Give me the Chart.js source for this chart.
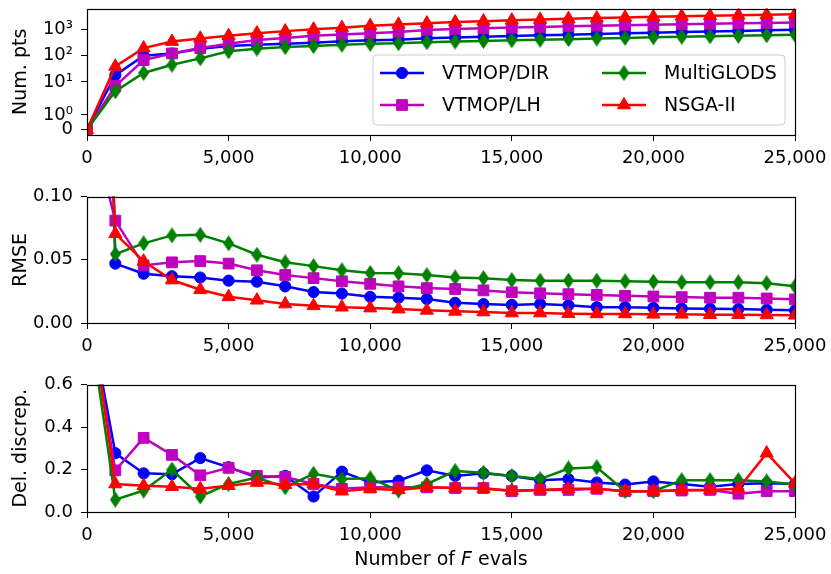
<!DOCTYPE html>
<html lang="en">
<head>
<meta charset="UTF-8">
<title>Num. pts / RMSE / Del. discrep. vs number of F evals</title>
<script src="https://cdn.jsdelivr.net/npm/chart.js"></script>
<style>
  body { margin: 0; background: #fff; }
  #wrap { position: relative; width: 831px; height: 574px; }
  canvas { position: absolute; left: 0; }
</style>
</head>
<body>
<div id="wrap">
  <canvas id="numChart" width="831" height="180" style="top:0"></canvas>
  <canvas id="rmseChart" width="831" height="180" style="top:188px"></canvas>
  <canvas id="delChart" width="831" height="198" style="top:376px"></canvas>
</div>
<script>
// x values (number of F evals)
const evals = [0, 1000, 2000, 3000, 4000, 5000, 6000, 7000, 8000, 9000, 10000, 11000, 12000,
  13000, 14000, 15000, 16000, 17000, 18000, 19000, 20000, 21000, 22000, 23000, 24000, 25000];
const seriesNames = ["VTMOP/DIR", "VTMOP/LH", "MultiGLODS", "NSGA-II"];

// Num. pts
const numDir = [0, 18, 99, 121, 185, 231, 260, 283, 308, 353, 385, 408, 456, 490, 525, 560, 595, 630, 670, 710, 750, 790, 830, 875, 920, 970];
const numLh = [0, 7, 68, 121, 195, 283, 398, 471, 573, 640, 721, 805, 955, 1030, 1100, 1170, 1240, 1310, 1380, 1440, 1500, 1570, 1630, 1700, 1760, 1830];
const numGlods = [0, 4.4, 22, 45, 79, 147, 185, 212, 231, 260, 283, 298, 324, 345, 365, 385, 405, 425, 450, 475, 500, 525, 545, 570, 595, 620];
const numNsga = [0, 39, 194, 345, 455, 570, 720, 860, 1010, 1160, 1380, 1550, 1720, 1900, 2060, 2220, 2380, 2540, 2700, 2860, 3010, 3160, 3310, 3460, 3610, 3760];

// RMSE
const rmseDir = [0.9, 0.047, 0.039, 0.037, 0.036, 0.0335, 0.0327, 0.029, 0.0245, 0.0233, 0.0207, 0.020, 0.019,
  0.016, 0.015, 0.0143, 0.015, 0.014, 0.0125, 0.0125, 0.012, 0.0115, 0.0113, 0.011, 0.0105, 0.010];
const rmseLh = [0.17, 0.081, 0.0455, 0.048, 0.049, 0.047, 0.0417, 0.038, 0.0355, 0.033, 0.031, 0.029, 0.0276,
  0.0269, 0.0258, 0.0243, 0.0235, 0.0228, 0.0222, 0.0215, 0.021, 0.0205, 0.020, 0.020, 0.0194, 0.0187];
const rmseGlods = [0.9, 0.0545, 0.063, 0.0693, 0.0698, 0.063, 0.054, 0.048, 0.045, 0.0417, 0.0396, 0.0394, 0.0379,
  0.036, 0.0355, 0.034, 0.0335, 0.0335, 0.0335, 0.033, 0.0327, 0.0322, 0.0322, 0.0322, 0.0315, 0.029];
const rmseNsga = [0.6, 0.0706, 0.0488, 0.034, 0.0263, 0.0207, 0.018, 0.015, 0.0136, 0.0125, 0.0118, 0.011, 0.010,
  0.0092, 0.0087, 0.0079, 0.0079, 0.0074, 0.0072, 0.0072, 0.0069, 0.0069, 0.0066, 0.0066, 0.0064, 0.0061];

// Del. discrep.
const delDir = [1.0, 0.277, 0.182, 0.178, 0.254, 0.211, 0.162, 0.17, 0.073, 0.19, 0.139, 0.147, 0.196,
  0.17, 0.182, 0.17, 0.15, 0.155, 0.139, 0.129, 0.144, 0.132, 0.119, 0.132, 0.135, 0.132];
const delLh = [1.0, 0.196, 0.349, 0.269, 0.173, 0.208, 0.17, 0.165, 0.132, 0.109, 0.116, 0.116, 0.116,
  0.113, 0.113, 0.098, 0.104, 0.104, 0.109, 0.098, 0.098, 0.101, 0.104, 0.086, 0.098, 0.098];
const delGlods = [0.98, 0.058, 0.101, 0.2, 0.073, 0.132, 0.162, 0.116, 0.18, 0.155, 0.159, 0.101, 0.132,
  0.193, 0.185, 0.17, 0.155, 0.205, 0.211, 0.098, 0.098, 0.15, 0.15, 0.15, 0.144, 0.129];
const delNsga = [1.07, 0.132, 0.124, 0.119, 0.109, 0.124, 0.139, 0.129, 0.132, 0.098, 0.109, 0.104, 0.116,
  0.113, 0.109, 0.101, 0.104, 0.109, 0.109, 0.098, 0.098, 0.104, 0.104, 0.109, 0.277, 0.135];

// ticks
const xTicks = [0, 5000, 10000, 15000, 20000, 25000];
const numTicks = [0, 1, 10, 100, 1000];
const numTickLabels = ["0", "10\u2070", "10\u00b9", "10\u00b2", "10\u00b3"];
const rmseTicks = [0, 0.05, 0.10];
const delTicks = [0, 0.2, 0.4, 0.6];

const FONT = '"DejaVu Sans", sans-serif';
const FS = 18;      // tick labels
const FT = 19;      // axis titles, legend
Chart.defaults.font.family = FONT;
Chart.defaults.font.size = FS;
Chart.defaults.color = '#000';

// symlog scale (linthresh 2, linscale 1, base 10) like matplotlib
const LINTHRESH = 2;
const LINADJ = 1 / (1 - 1 / 10);
function symlog(v) {
  const a = Math.abs(v);
  if (a <= LINTHRESH) return v / LINTHRESH * LINADJ;
  return Math.sign(v) * (LINADJ + Math.log10(a / LINTHRESH));
}
function symexp(t) {
  const a = Math.abs(t);
  if (a <= LINADJ) return t / LINADJ * LINTHRESH;
  return Math.sign(t) * LINTHRESH * Math.pow(10, a - LINADJ);
}
class SymlogScale extends Chart.Scale {
  static id = 'symlog';
  static defaults = {};
  parse(raw) { return raw == null ? NaN : +raw; }
  determineDataLimits() {
    const { min, max } = this.getMinMax(true);
    this.min = Number.isFinite(this.options.min) ? this.options.min : min;
    this.max = Number.isFinite(this.options.max) ? this.options.max : max;
  }
  buildTicks() { return numTicks.map(v => ({ value: v })); }
  configure() {
    super.configure();
    this._startValue = symlog(this.min);
    this._valueRange = symlog(this.max) - symlog(this.min);
  }
  getLabelForValue(v) { return String(v); }
  getPixelForValue(v) {
    return this.getPixelForDecimal((symlog(v) - this._startValue) / this._valueRange);
  }
  getValueForPixel(p) {
    return symexp(this._startValue + this.getDecimalForPixel(p) * this._valueRange);
  }
}
Chart.register(SymlogScale);

function thinDiamond(color) {
  const c = document.createElement('canvas');
  c.width = 11; c.height = 16;
  const g = c.getContext('2d');
  g.fillStyle = color;
  g.beginPath();
  g.moveTo(5.5, 0); g.lineTo(11, 8); g.lineTo(5.5, 16); g.lineTo(0, 8);
  g.closePath(); g.fill();
  return c;
}

const styles = [
  { color: '#0000ff', pointStyle: 'circle', radius: 5.6, order: 3 },
  { color: '#bf00bf', pointStyle: 'rect', radius: 7.6, order: 2 },
  { color: '#008000', pointStyle: thinDiamond('#008000'), radius: 7, order: 1 },
  { color: '#ff0000', pointStyle: 'triangle', radius: 7.6, order: 0 }
];

function makeDatasets(seriesList) {
  return seriesList.map((vals, k) => ({
    label: seriesNames[k],
    data: evals.map((x, i) => ({ x: x, y: vals[i] })),
    borderColor: styles[k].color,
    backgroundColor: styles[k].color,
    pointBackgroundColor: styles[k].color,
    pointBorderColor: styles[k].color,
    pointStyle: styles[k].pointStyle,
    pointRadius: styles[k].radius,
    pointBorderWidth: 1,
    borderWidth: 2.5,
    tension: 0,
    fill: false,
    order: styles[k].order
  }));
}

function xScale(h) {
  return {
    type: 'linear', min: 0, max: 25000,
    afterBuildTicks: s => { s.ticks = xTicks.map(v => ({ value: v })); },
    ticks: { callback: v => v.toLocaleString('en-US'), padding: 7, maxRotation: 0, autoSkip: false },
    grid: { drawOnChartArea: false, tickLength: 6, color: '#000', tickColor: '#000', lineWidth: 1 },
    border: { display: false },
    afterFit: s => { s.height = h; s.paddingLeft = 0; s.paddingRight = 0; }
  };
}

function yScale(opts) {
  return Object.assign({
    grid: { drawOnChartArea: false, tickLength: 6, color: '#000', tickColor: '#000', lineWidth: 1 },
    border: { display: false },
    afterFit: s => { s.width = 87; s.paddingTop = 0; s.paddingBottom = 0; }
  }, opts);
}

function yTitle(text) {
  return { display: true, text: text, font: { size: FT }, padding: { top: 10, bottom: 0 } };
}

// axes frame on top of the lines
const framePlugin = {
  id: 'frame',
  afterDatasetsDraw(chart) {
    const { ctx, chartArea: a } = chart;
    ctx.save();
    ctx.strokeStyle = '#000';
    ctx.lineWidth = 1.2;
    ctx.strokeRect(Math.round(a.left) + 0.5, Math.round(a.top) + 0.5,
      Math.round(a.right - a.left), Math.round(a.bottom - a.top));
    ctx.restore();
  }
};

const legendPlugin = {
  id: 'boxLegend',
  afterDraw(chart) {
    const ctx = chart.ctx;
    ctx.save();
    const bx = 373, by = 55, bw = 412, bh = 70, r = 4;
    ctx.beginPath();
    ctx.roundRect(bx, by, bw, bh, r);
    ctx.fillStyle = 'rgba(255,255,255,0.8)';
    ctx.fill();
    ctx.strokeStyle = '#cccccc';
    ctx.lineWidth = 1;
    ctx.stroke();
    const cols = [380, 602], rows = [73, 105];
    chart.data.datasets.forEach((ds, k) => {
      const x0 = cols[Math.floor(k / 2)], y0 = rows[k % 2];
      ctx.strokeStyle = ds.borderColor;
      ctx.lineWidth = ds.borderWidth;
      ctx.beginPath();
      ctx.moveTo(x0, y0); ctx.lineTo(x0 + 44, y0);
      ctx.stroke();
      ctx.fillStyle = ds.pointBackgroundColor;
      ctx.strokeStyle = ds.pointBorderColor;
      ctx.lineWidth = 1;
      Chart.helpers.drawPoint(ctx, { pointStyle: ds.pointStyle, radius: ds.pointRadius, rotation: 0, borderWidth: 1 }, x0 + 22, y0);
      ctx.fillStyle = '#000';
      ctx.font = FT + 'px ' + FONT;
      ctx.textBaseline = 'middle';
      ctx.textAlign = 'left';
      ctx.fillText(ds.label, x0 + 62, y0 + 1);
    });
    ctx.restore();
  }
};

const xTitlePlugin = {
  id: 'xTitle',
  afterDraw(chart) {
    const ctx = chart.ctx, a = chart.chartArea;
    const parts = [["Number of ", ''], ["F", 'italic '], [" evals", '']];
    ctx.save();
    ctx.fillStyle = '#000';
    ctx.textBaseline = 'alphabetic';
    ctx.textAlign = 'left';
    let w = 0;
    parts.forEach(p => { ctx.font = p[1] + FT + 'px ' + FONT; w += ctx.measureText(p[0]).width; });
    let x = (a.left + a.right) / 2 - w / 2;
    parts.forEach(p => {
      ctx.font = p[1] + FT + 'px ' + FONT;
      ctx.fillText(p[0], x, 189);
      x += ctx.measureText(p[0]).width;
    });
    ctx.restore();
  }
};

const baseOptions = {
  responsive: false,
  animation: false,
  events: [],
  layout: { padding: { top: 5, right: 36, left: 0, bottom: 0 } },
  plugins: { legend: { display: false }, tooltip: { enabled: false } }
};

new Chart(document.getElementById('numChart'), {
  type: 'line',
  data: { datasets: makeDatasets([numDir, numLh, numGlods, numNsga]) },
  options: Object.assign({}, baseOptions, {
    scales: {
      x: xScale(45),
      y: yScale({
        type: 'symlog', min: -0.38, max: 6200,
        ticks: { padding: 8, autoSkip: false, callback: v => numTickLabels[numTicks.indexOf(v)] },
        title: yTitle('Num. pts')
      })
    }
  }),
  plugins: [framePlugin, legendPlugin]
});

new Chart(document.getElementById('rmseChart'), {
  type: 'line',
  data: { datasets: makeDatasets([rmseDir, rmseLh, rmseGlods, rmseNsga]) },
  options: Object.assign({}, baseOptions, {
    scales: {
      x: xScale(45),
      y: yScale({
        type: 'linear', min: 0, max: 0.10,
        afterBuildTicks: s => { s.ticks = rmseTicks.map(v => ({ value: v })); },
        ticks: { padding: 8, autoSkip: false, callback: v => v.toFixed(2) },
        title: yTitle('RMSE')
      })
    }
  }),
  plugins: [framePlugin]
});

new Chart(document.getElementById('delChart'), {
  type: 'line',
  data: { datasets: makeDatasets([delDir, delLh, delGlods, delNsga]) },
  options: Object.assign({}, baseOptions, {
    scales: {
      x: xScale(62),
      y: yScale({
        type: 'linear', min: 0, max: 0.6,
        afterBuildTicks: s => { s.ticks = delTicks.map(v => ({ value: v })); },
        ticks: { padding: 8, autoSkip: false, callback: v => v.toFixed(1) },
        title: yTitle('Del. discrep.')
      })
    }
  }),
  plugins: [framePlugin, xTitlePlugin]
});
</script>
</body>
</html>
